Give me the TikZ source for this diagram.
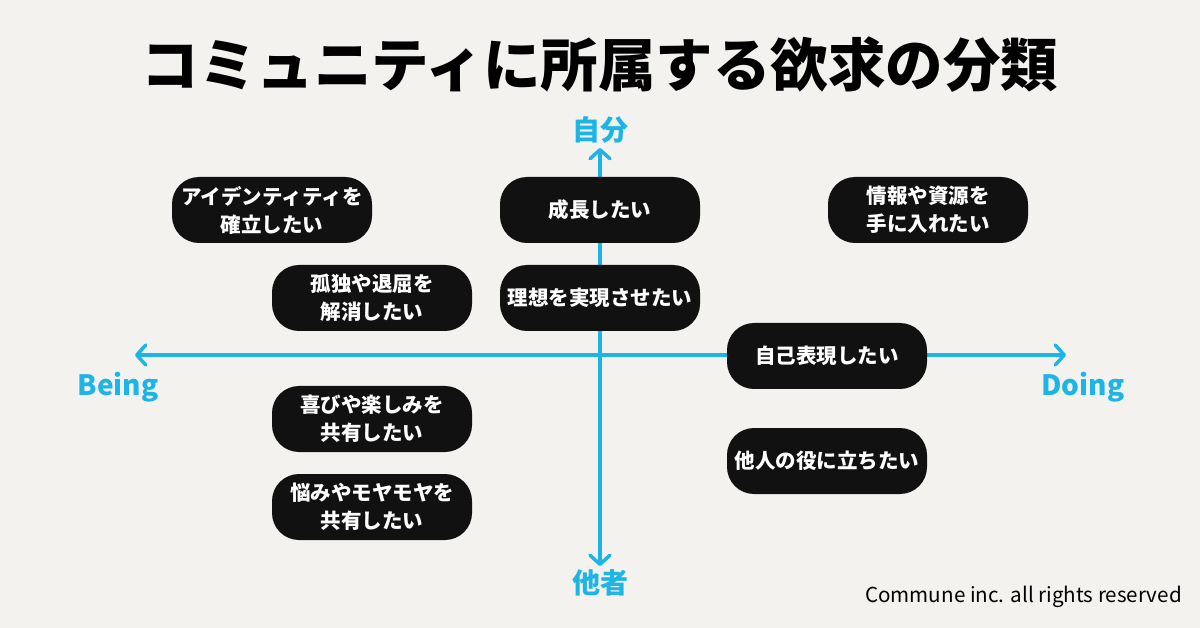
\documentclass[tikz,border=0pt]{standalone}
\usepackage{fontspec}
\setmainfont{Noto Sans CJK JP}
\usetikzlibrary{arrows.meta}
\definecolor{bg}{HTML}{F3F2EE}
\definecolor{axisblue}{HTML}{1DB4E6}
\definecolor{boxblack}{HTML}{111111}
\begin{document}
\begin{tikzpicture}[x=1pt,y=-1pt,
  wish/.style={fill=boxblack, rounded corners=27pt, minimum width=200pt, minimum height=66pt,
    text=white, align=center, inner sep=0pt,
    font=\fontsize{20.5}{28}\selectfont\bfseries},
  axislabel/.style={text=axisblue, font=\fontsize{28}{32}\selectfont\bfseries, inner sep=0pt},
  axisline/.style={draw=axisblue, line width=3.5pt,
    -{Straight Barb[length=9pt,width=20pt,line cap=round,line join=round]}}]
\fill[bg] (0,0) rectangle (1200,628);
\useasboundingbox (0,0) rectangle (1200,628);
% title
\node[inner sep=0pt, font=\fontsize{57.5}{60}\selectfont\bfseries] (title) at (600,65) {コミュニティに所属する欲求の分類};
% axes
\coordinate (origin) at (600,355);
\coordinate (top) at (600,148);
\coordinate (bottom) at (600,566);
\coordinate (left) at (135,355);
\coordinate (right) at (1066,355);
\draw[axisline] (origin) -- (top);
\draw[axisline] (origin) -- (bottom);
\draw[axisline] (origin) -- (left);
\draw[axisline] (origin) -- (right);
\node[axislabel] (self) at (600,130) {自分};
\node[axislabel] (others) at (600,583) {他者};
\node[axislabel] (being) at (118,387) {Being};
\node[axislabel] (doing) at (1083,387) {Doing};
% boxes
\node[wish] (b1) at (272,210) {アイデンティティを\\確立したい};
\node[wish] (b2) at (600,210) {成長したい};
\node[wish] (b3) at (928,210) {情報や資源を\\手に入れたい};
\node[wish] (b4) at (372,298) {孤独や退屈を\\解消したい};
\node[wish] (b5) at (600,298) {理想を実現させたい};
\node[wish] (b6) at (827,356) {自己表現したい};
\node[wish] (b7) at (372,419) {喜びや楽しみを\\共有したい};
\node[wish] (b8) at (827,461) {他人の役に立ちたい};
\node[wish] (b9) at (372,507) {悩みやモヤモヤを\\共有したい};
% footer
\node[anchor=east, inner sep=0pt, font=\fontsize{20.6}{24}\selectfont] (footer) at (1182,597) {Commune inc. all rights reserved};
\end{tikzpicture}
\end{document}
